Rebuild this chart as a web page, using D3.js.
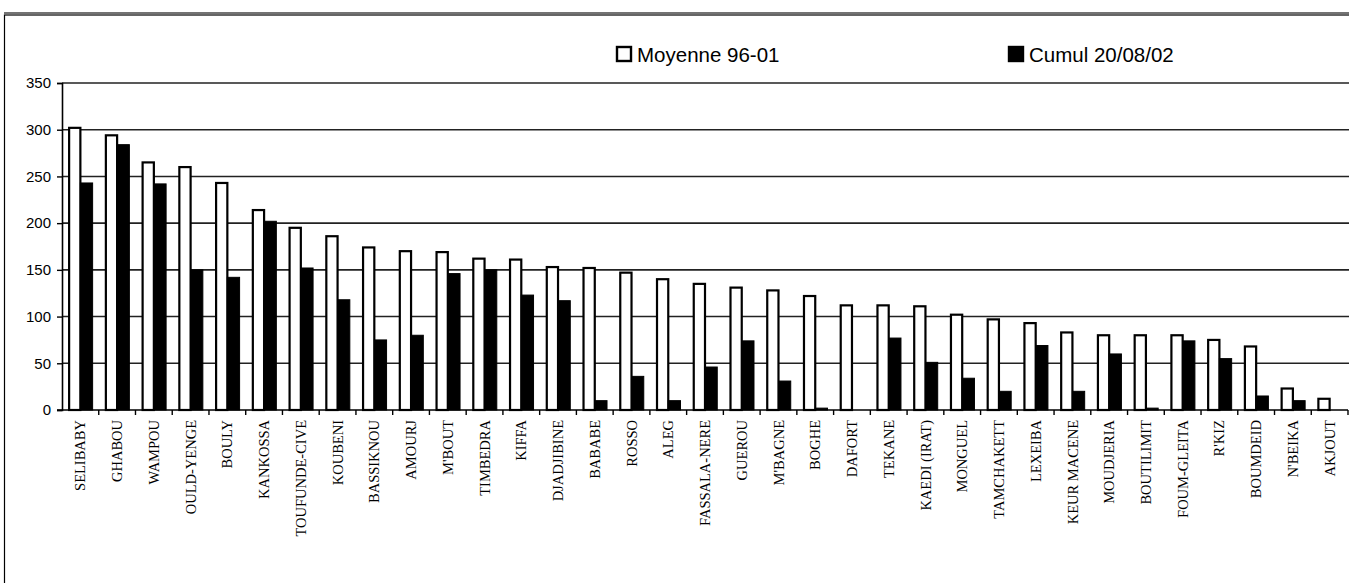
<!DOCTYPE html>
<html>
<head>
<meta charset="utf-8">
<script src="https://cdn.jsdelivr.net/npm/d3@7"></script>
<style>
  body { margin: 0; background: #fff; }
  svg { display: block; }
</style>
</head>
<body>
<svg id="chart" width="1349" height="583"></svg>
<script>
const stations = ['SELIBABY', 'GHABOU', 'WAMPOU', 'OULD-YENGE', 'BOULY', 'KANKOSSA', 'TOUFUNDE-CIVE',
  'KOUBENI', 'BASSIKNOU', 'AMOURJ', "M'BOUT", 'TIMBEDRA', 'KIFFA', 'DJADJIBINE', 'BABABE', 'ROSSO',
  'ALEG', 'FASSALA-NERE', 'GUEROU', "M'BAGNE", 'BOGHE', 'DAFORT', 'TEKANE', 'KAEDI (IRAT)', 'MONGUEL',
  'TAMCHAKETT', 'LEXEIBA', 'KEUR MACENE', 'MOUDJERIA', 'BOUTILIMIT', 'FOUM-GLEITA', "R'KIZ",
  'BOUMDEID', "N'BEIKA", 'AKJOUT'];

const moyenne = [302, 294, 265, 260, 243, 214, 195, 186, 174, 170, 169, 162, 161, 153, 152, 147,
  140, 135, 131, 128, 122, 112, 112, 111, 102, 97, 93, 83, 80, 80, 80, 75, 68, 23, 12];

const cumul = [243, 284, 242, 150, 142, 202, 152, 118, 75, 80, 146, 150, 123, 117, 10, 36,
  10, 46, 74, 31, 2, 0, 77, 51, 34, 20, 69, 20, 60, 2, 74, 55, 15, 10, 0];

const seriesNames = ['Moyenne 96-01', 'Cumul 20/08/02'];
const yTicks = [0, 50, 100, 150, 200, 250, 300, 350];

const svg = d3.select('#chart');

// cadre
svg.append('line')
  .attr('x1', 4).attr('x2', 1349).attr('y1', 13).attr('y2', 13)
  .attr('stroke', '#444').attr('stroke-width', 1.5);
svg.append('rect')
  .attr('x', 4.5).attr('y', 15).attr('width', 1360).attr('height', 600)
  .attr('fill', 'none').attr('stroke', '#000').attr('stroke-width', 1.2);

const plotLeft = 62, plotRight = 1348, plotTop = 83, plotBottom = 410;

const x = d3.scaleBand().domain(stations).range([plotLeft, plotRight]).padding(0);
const xs = d3.scaleBand().domain(['moy', 'cum']).range([0, x.bandwidth()])
  .paddingInner(0).paddingOuter(0.5);
const y = d3.scaleLinear().domain([0, 350]).range([plotBottom, plotTop]);

// grille
svg.append('g').selectAll('line')
  .data(yTicks.filter(t => t > 0))
  .enter().append('line')
  .attr('x1', plotLeft).attr('x2', 1349)
  .attr('y1', t => y(t)).attr('y2', t => y(t))
  .attr('stroke', '#222').attr('stroke-width', 1.6);

// axe y
const yAxis = svg.append('g')
  .attr('transform', `translate(${plotLeft},0)`)
  .call(d3.axisLeft(y).tickValues(yTicks).tickSize(5).tickPadding(6));
yAxis.select('.domain').attr('stroke', '#000').attr('stroke-width', 1.6);
yAxis.selectAll('.tick line').attr('stroke', '#000').attr('stroke-width', 1.4);
yAxis.selectAll('text')
  .attr('font-family', 'Liberation Sans, Arial, sans-serif')
  .attr('font-size', 15).attr('fill', '#000');

// barres
const groups = svg.append('g').selectAll('g')
  .data(stations)
  .enter().append('g')
  .attr('transform', s => `translate(${x(s)},0)`);

groups.append('rect')
  .attr('x', xs('moy') + 1)
  .attr('y', (s, i) => y(moyenne[i]))
  .attr('width', xs.bandwidth() - 1)
  .attr('height', (s, i) => y(0) - y(moyenne[i]))
  .attr('fill', '#fff').attr('stroke', '#000').attr('stroke-width', 2.2);

groups.append('rect')
  .attr('x', xs('cum'))
  .attr('y', (s, i) => y(cumul[i]))
  .attr('width', xs.bandwidth())
  .attr('height', (s, i) => y(0) - y(cumul[i]))
  .attr('fill', '#000').attr('stroke', '#000').attr('stroke-width', 1);

// axe x
const xAxis = svg.append('g')
  .attr('transform', `translate(0,${plotBottom})`)
  .call(d3.axisBottom(x).tickSize(0).tickPadding(0));
xAxis.select('.domain').remove();
xAxis.selectAll('text')
  .attr('font-family', 'Liberation Serif, Times New Roman, serif')
  .attr('font-size', 14.5).attr('fill', '#000')
  .attr('transform', 'rotate(-90)')
  .attr('text-anchor', 'end')
  .attr('x', -10).attr('y', 0).attr('dy', '0.35em');

svg.append('line')
  .attr('x1', plotLeft - 5).attr('x2', plotRight)
  .attr('y1', plotBottom).attr('y2', plotBottom)
  .attr('stroke', '#000').attr('stroke-width', 1.6);

svg.append('g').selectAll('line')
  .data(stations)
  .enter().append('line')
  .attr('x1', s => x(s) + x.bandwidth()).attr('x2', s => x(s) + x.bandwidth())
  .attr('y1', plotBottom).attr('y2', plotBottom + 5)
  .attr('stroke', '#000').attr('stroke-width', 1.4);

// légende
const legend = svg.append('g');
const legX = [617, 1009];
const legFill = ['#fff', '#000'];
seriesNames.forEach((name, i) => {
  legend.append('rect')
    .attr('x', legX[i]).attr('y', 47).attr('width', 14).attr('height', 14)
    .attr('fill', legFill[i]).attr('stroke', '#000').attr('stroke-width', 2.4);
  legend.append('text')
    .attr('x', legX[i] + 20).attr('y', 62)
    .attr('font-family', 'Liberation Sans, Arial, sans-serif')
    .attr('font-size', 20.5).attr('fill', '#000')
    .text(name);
});
</script>
</body>
</html>
